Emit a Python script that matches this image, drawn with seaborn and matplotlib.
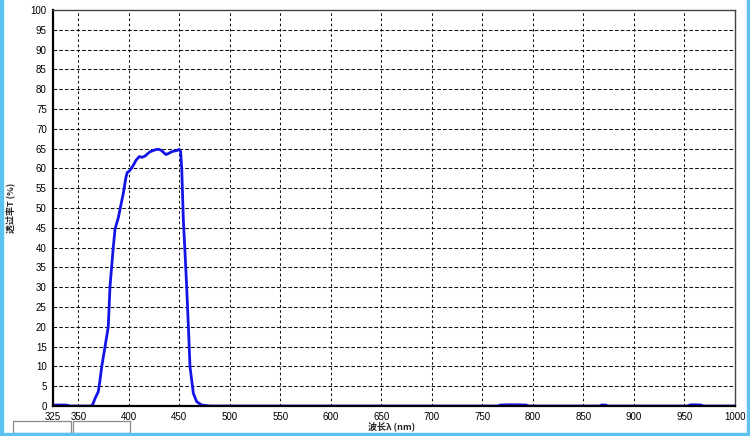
import numpy as np
import pandas as pd
import matplotlib
matplotlib.use("Agg")
import matplotlib.pyplot as plt
from matplotlib.patches import Rectangle
import seaborn as sns

# ---- data ----
wavelength = [325, 328, 332, 336, 339, 342, 350, 358, 362, 364, 366.6, 369.8, 371.5, 373.2,
              376.5, 379.7, 381.4, 384.7, 386.4, 389.6, 392, 394.6, 397, 398.5, 400.5, 402.5,
              404.5, 407, 410.4, 413, 416, 419, 421, 424, 427.6, 430, 432.6, 434.5, 436.8,
              439.5, 442.5, 445, 447.4, 450, 451.3, 452.4, 454, 455.8, 457.3, 459, 460.6,
              463.9, 467.2, 472, 480, 600, 765, 768, 775, 785, 793, 796, 866, 868, 872, 874,
              953, 956, 962, 966, 969, 1000]
transmittance = [0.2, 0.25, 0.25, 0.25, 0.2, 0.0, 0.0, 0.0, 0.0, 0.2, 1.9, 3.6, 6.5, 9.9,
                 15.0, 20.0, 30.1, 40.2, 44.7, 47.5, 50.5, 53.7, 57.5, 59.0, 59.3, 60.0,
                 60.8, 62.0, 63.0, 62.8, 63.1, 63.8, 64.2, 64.5, 64.8, 64.8, 64.5, 64.0, 63.5,
                 63.8, 64.2, 64.4, 64.5, 64.8, 64.3, 60.0, 47.0, 38.0, 30.1, 20.0, 9.9,
                 3.2, 1.1, 0.25, 0.0, 0.0, 0.0, 0.25, 0.3, 0.3, 0.25, 0.0, 0.0, 0.25, 0.25, 0.0,
                 0.0, 0.3, 0.3, 0.25, 0.0, 0.0]
x_tick_values = [325, 350, 400, 450, 500, 550, 600, 650, 700, 750, 800, 850, 900, 950, 1000]
y_tick_values = list(range(0, 101, 5))
x_label = "波长λ (nm)"
y_label = "透过率T (%)"

df = pd.DataFrame({"wl": wavelength, "T": transmittance})

sns.set_style("white")
plt.rcParams['font.family'] = ['Liberation Sans', 'DejaVu Sans']

W, H, DPI = 750, 436, 100
fig = plt.figure(figsize=(W / DPI, H / DPI), dpi=DPI, facecolor="white")
ax = fig.add_axes([53 / W, 1 - 406 / H, (735 - 53) / W, (406 - 10) / H])

sns.lineplot(data=df, x="wl", y="T", ax=ax, color="#1414E6", linewidth=2.0,
             estimator=None, sort=False)

ax.set_xlim(325, 1000)
ax.set_ylim(0, 100)
ax.set_xticks(x_tick_values)
ax.set_xticklabels([str(v) for v in x_tick_values])
ax.set_yticks(y_tick_values)
ax.set_yticklabels([str(v) for v in y_tick_values])
ax.set_xticks(np.arange(325, 1000.1, 12.5), minor=True)

ax.tick_params(axis="both", which="major", labelsize=7, colors="black",
               direction="inout", length=5, width=0.8, pad=2)
ax.tick_params(axis="x", which="minor", direction="out", length=2.5, width=0.6,
               color="#444444")

# grid lines (thin dotted / dashed, 1 px)
for xv in range(350, 1000, 50):
    ax.axvline(xv, color="#111111", linestyle=(0, (2.5, 2.5)), linewidth=0.75, zorder=0)
for yv in range(5, 100, 5):
    ax.axhline(yv, color="#111111", linestyle=(0, (3.5, 2)), linewidth=0.75, zorder=0)

for side in ["left", "bottom"]:
    ax.spines[side].set_color("black")
    ax.spines[side].set_linewidth(1.6)
for side in ["top", "right"]:
    ax.spines[side].set_color("#444444")
    ax.spines[side].set_linewidth(1.0)

ax.set_xlabel("")
ax.set_ylabel("")
fig.text(392 / W, 1 - 426 / H, x_label, ha="center", va="center", fontsize=6.5,
         fontweight="bold", family=['Noto Sans CJK SC', 'DejaVu Sans'])
fig.text(10.5 / W, 1 - 208 / H, y_label, ha="center", va="center", fontsize=6.5,
         fontweight="bold", rotation=90, family=['Noto Sans CJK SC', 'DejaVu Sans'])

# window-like frame and status-bar boxes
frame_col = "#5CC3F0"
fig.patches.append(Rectangle((0, 0), 3 / W, 1, transform=fig.transFigure,
                             color=frame_col, zorder=10))
fig.patches.append(Rectangle((1 - 3 / W, 0), 3 / W, 1, transform=fig.transFigure,
                             color=frame_col, zorder=10))
fig.patches.append(Rectangle((0, 0), 1, 3 / H, transform=fig.transFigure,
                             color=frame_col, zorder=10))
for x0, x1 in [(12.5, 71), (72.5, 130)]:
    fig.patches.append(Rectangle((x0 / W, 3 / H), (x1 - x0) / W, (433 - 420.5) / H,
                                 transform=fig.transFigure, facecolor="white",
                                 edgecolor="#8A8A8A", linewidth=0.9, zorder=9))

fig.savefig("out.png", dpi=DPI, facecolor="white")
